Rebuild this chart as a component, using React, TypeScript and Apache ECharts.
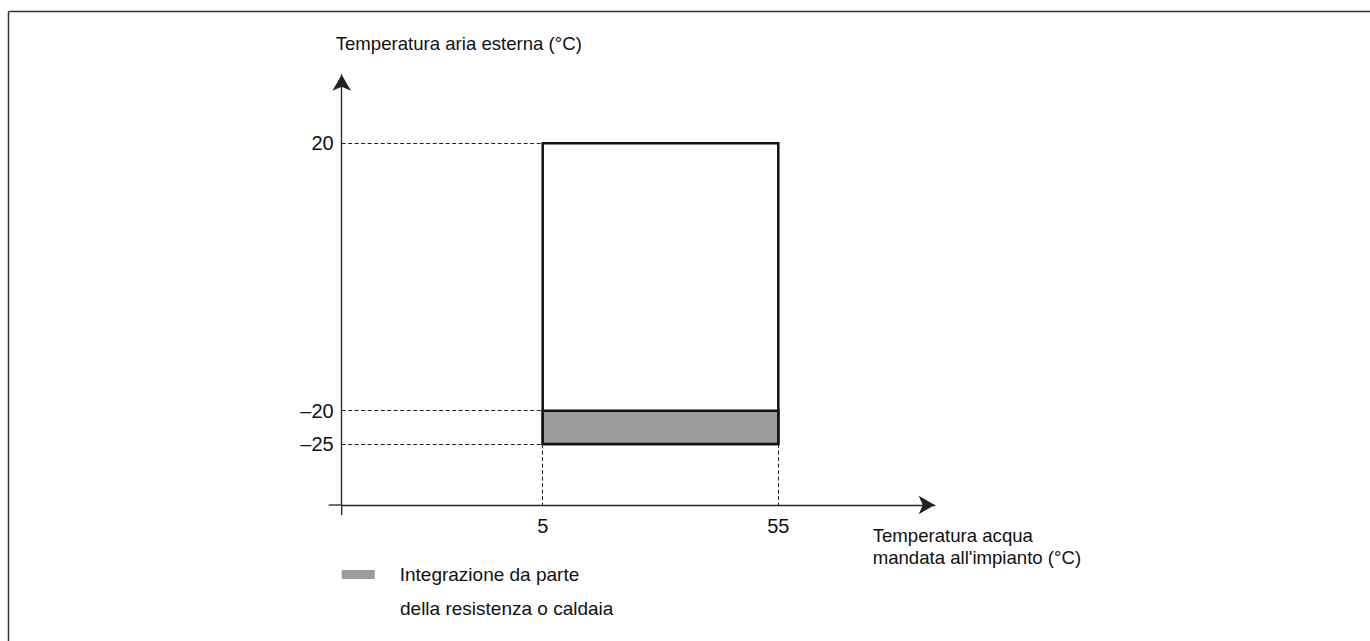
import React, { useEffect, useRef } from "react";
import * as echarts from "echarts";

// ---- Data ----
const xTicks = [5, 55];
const yTicks = [20, -20, -25];
// [xFrom, xTo, yFrom, yTo]
const operatingRange = [5, 55, -25, 20];
const integrationBand = [5, 55, -25, -20];

const yAxisName = "Temperatura aria esterna (°C)";
const xAxisName = "Temperatura acqua\nmandata all'impianto (°C)";
const legendLines = ["Integrazione da parte", "della resistenza o caldaia"];
const bandSeriesName = legendLines.join(" ");

// ---- Layout / style ----
const X_MIN = -37.66;
const X_MAX = 88.19;
const Y_MIN = -34.11;
const Y_MAX = 30.26;
const GRID = { left: 341.7, top: 74.7, right: 435.3, bottom: 136 };
const AXIS_OVERSHOOT = { left: 13, down: 10 };

const FONT = '"Liberation Sans", Arial, Helvetica, sans-serif';
const TEXT = "#111";
const GRAY = "#9c9c9d";
const AXIS_COLOR = "#222";

export default function App() {
  const ref = useRef<HTMLDivElement>(null);

  useEffect(() => {
    document.body.style.margin = "0";
    document.body.style.overflow = "hidden";
    if (!ref.current) return;
    const chart = echarts.init(ref.current, null, { renderer: "svg" });

    const rectRender = (fill: string) => (params: any, api: any) => {
      const x0 = api.value(0);
      const x1 = api.value(1);
      const y0 = api.value(2);
      const y1 = api.value(3);
      const p0 = api.coord([x0, y1]);
      const p1 = api.coord([x1, y0]);
      return {
        type: "rect",
        shape: { x: p0[0], y: p0[1], width: p1[0] - p0[0], height: p1[1] - p0[1] },
        style: { fill, stroke: "#111", lineWidth: 2.5 },
      };
    };

    const dashed = { type: [4, 2.5], color: "#222", width: 1 };

    const guideData: any[] = [];
    yTicks.forEach((y) => {
      guideData.push([{ coord: [X_MIN, y] }, { coord: [operatingRange[0], y] }]);
    });
    xTicks.forEach((x) => {
      guideData.push([{ coord: [x, operatingRange[2]] }, { coord: [x, Y_MIN] }]);
    });

    const axisX = GRID.left;
    const axisY = 641 - GRID.bottom;

    const option: any = {
      animation: false,
      backgroundColor: "#fff",
      textStyle: { fontFamily: FONT },
      grid: GRID,
      xAxis: {
        type: "value",
        min: X_MIN,
        max: X_MAX,
        name: xAxisName,
        nameLocation: "end",
        nameGap: -62,
        nameTextStyle: {
          fontSize: 18.6,
          fontFamily: FONT,
          color: TEXT,
          align: "left",
          verticalAlign: "top",
          lineHeight: 22,
          padding: [19, 0, 0, 0],
        },
        axisLine: {
          show: true,
          onZero: false,
          symbol: ["none", "arrow"],
          symbolSize: [14, 16],
          lineStyle: { color: AXIS_COLOR, width: 1.3 },
        },
        axisTick: { show: false },
        splitLine: { show: false },
        axisLabel: {
          customValues: xTicks,
          fontSize: 20,
          fontFamily: FONT,
          color: TEXT,
          margin: 11,
        },
      },
      yAxis: {
        type: "value",
        min: Y_MIN,
        max: Y_MAX,
        name: yAxisName,
        nameLocation: "end",
        nameGap: 20,
        nameTextStyle: {
          fontSize: 18.6,
          fontFamily: FONT,
          color: TEXT,
          align: "left",
          verticalAlign: "bottom",
          lineHeight: 22,
          padding: [0, 0, 0, -6],
        },
        axisLine: {
          show: true,
          onZero: false,
          symbol: ["none", "arrow"],
          symbolSize: [14, 16],
          lineStyle: { color: AXIS_COLOR, width: 1.3 },
        },
        axisTick: { show: false },
        splitLine: { show: false },
        axisLabel: {
          customValues: yTicks,
          fontSize: 20,
          fontFamily: FONT,
          color: TEXT,
          margin: 8,
          formatter: (v: number) => (v < 0 ? "\u2013" + Math.abs(v) : String(v)),
        },
      },
      legend: {
        show: true,
        left: 341.7,
        top: 565,
        padding: 0,
        itemWidth: 33,
        itemHeight: 9,
        selectedMode: false,
        data: [
          {
            name: bandSeriesName,
            icon: "rect",
            itemStyle: { color: GRAY, borderWidth: 0 },
          },
        ],
        formatter: () => legendLines[0],
        textStyle: {
          fontSize: 19,
          fontFamily: FONT,
          color: TEXT,
          padding: [0, 0, 0, 20],
        },
      },
      graphic: [
        {
          type: "line",
          shape: { x1: 8.5, y1: 11.5, x2: 1370, y2: 11.5 },
          style: { stroke: "#333", lineWidth: 1.5 },
          silent: true,
        },
        {
          type: "line",
          shape: { x1: 8.5, y1: 11.5, x2: 8.5, y2: 641 },
          style: { stroke: "#333", lineWidth: 1.5 },
          silent: true,
        },
        {
          type: "line",
          shape: { x1: axisX - AXIS_OVERSHOOT.left, y1: axisY, x2: axisX, y2: axisY },
          style: { stroke: AXIS_COLOR, lineWidth: 1.3 },
          silent: true,
        },
        {
          type: "line",
          shape: { x1: axisX, y1: axisY, x2: axisX, y2: axisY + AXIS_OVERSHOOT.down },
          style: { stroke: AXIS_COLOR, lineWidth: 1.3 },
          silent: true,
        },
        {
          type: "text",
          x: 400,
          y: 608,
          style: {
            text: legendLines[1],
            fontSize: 19,
            fontFamily: FONT,
            fill: TEXT,
            verticalAlign: "middle",
          },
          silent: true,
        },
      ],
      series: [
        {
          type: "custom",
          name: "range",
          renderItem: rectRender("#fff"),
          encode: { x: [0, 1], y: [2, 3] },
          data: [operatingRange],
          clip: false,
          z: 3,
        },
        {
          type: "custom",
          name: bandSeriesName,
          renderItem: rectRender(GRAY),
          encode: { x: [0, 1], y: [2, 3] },
          itemStyle: { color: GRAY },
          data: [integrationBand],
          clip: false,
          z: 4,
        },
        {
          type: "line",
          name: "guides",
          data: [],
          clip: false,
          silent: true,
          z: 2,
          markLine: {
            silent: true,
            symbol: ["none", "none"],
            label: { show: false },
            lineStyle: dashed,
            data: guideData,
          },
        },
      ],
    };

    chart.setOption(option);
    return () => chart.dispose();
  }, []);

  return <div ref={ref} style={{ width: 1370, height: 641 }} />;
}
